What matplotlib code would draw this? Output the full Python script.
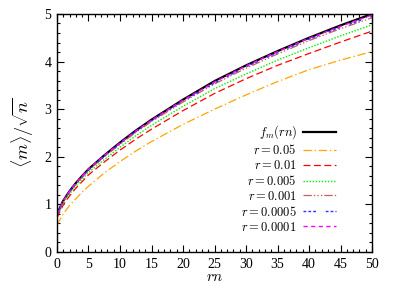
import matplotlib
matplotlib.use("Agg")
import matplotlib.pyplot as plt
from matplotlib.ticker import MultipleLocator

plt.rcParams['font.family'] = 'serif'
plt.rcParams['font.serif'] = ['Liberation Serif', 'DejaVu Serif']
plt.rcParams['mathtext.fontset'] = 'cm'
plt.rcParams['lines.scale_dashes'] = False

# values
rn = [0, 1, 2, 3, 4, 5, 7.5, 10, 12.5, 15, 20, 25, 30, 35, 40, 45, 50]

f_m = [0.80, 1.08, 1.28, 1.45, 1.60, 1.74, 2.03, 2.30, 2.55, 2.78, 3.20, 3.59, 3.92, 4.22, 4.50, 4.76, 5.00]
r_005 = [0.57, 0.80, 0.98, 1.12, 1.26, 1.38, 1.66, 1.90, 2.12, 2.32, 2.68, 3.00, 3.30, 3.58, 3.83, 4.03, 4.21]
r_001 = [0.72, 0.99, 1.18, 1.34, 1.48, 1.62, 1.89, 2.14, 2.37, 2.58, 2.97, 3.33, 3.64, 3.92, 4.17, 4.41, 4.64]
r_0005 = [0.75, 1.03, 1.22, 1.39, 1.53, 1.67, 1.94, 2.20, 2.44, 2.66, 3.06, 3.43, 3.74, 4.03, 4.29, 4.54, 4.77]
r_0001 = [0.78, 1.06, 1.26, 1.43, 1.57, 1.71, 2.00, 2.26, 2.51, 2.74, 3.15, 3.53, 3.86, 4.16, 4.44, 4.69, 4.92]
r_00005 = [0.79, 1.07, 1.27, 1.44, 1.59, 1.72, 2.01, 2.28, 2.53, 2.76, 3.17, 3.55, 3.89, 4.19, 4.47, 4.72, 4.95]
r_00001 = [0.80, 1.08, 1.28, 1.45, 1.60, 1.74, 2.03, 2.29, 2.54, 2.77, 3.19, 3.57, 3.91, 4.21, 4.49, 4.74, 4.98]

series = [
    (f_m, r'$f_m(rn)$', 'black', '-', 1.6),
    (r_005, r'$r = 0.05$', '#FFA500', (0, (6, 2, 1, 2)), 0.9),
    (r_001, r'$r = 0.01$', '#FF0000', (0, (5, 2.5)), 0.9),
    (r_0005, r'$r = 0.005$', '#00EE00', (0, (1, 1.2)), 1.0),
    (r_0001, r'$r = 0.001$', '#C06060', (0, (6, 1.5, 1, 1.5, 1, 1.5, 1, 1.5)), 0.9),
    (r_00005, r'$r = 0.0005$', '#3030FF', (0, (2, 1.5, 2, 1.5, 2, 7)), 1.0),
    (r_00001, r'$r = 0.0001$', '#FF00FF', (0, (3, 2.5)), 1.0),
]

fig = plt.figure(figsize=(3.95, 2.91), dpi=100)
ax = fig.add_axes([0.1443, 0.134, 0.7975, 0.818])

for ys, lab, col, ls, lw in series:
    ax.plot(rn, ys, color=col, linestyle=ls, linewidth=lw, label=lab)

ax.set_xlim(0, 50)
ax.set_ylim(0, 5)
ax.xaxis.set_major_locator(MultipleLocator(5))
ax.xaxis.set_minor_locator(MultipleLocator(1))
ax.yaxis.set_major_locator(MultipleLocator(1))
ax.yaxis.set_minor_locator(MultipleLocator(0.2))
ax.tick_params(which='both', direction='in', top=True, right=True, labelsize=10, pad=4)
ax.tick_params(which='major', length=4.8, width=0.8)
ax.tick_params(which='minor', length=2.4, width=0.8)
for s in ax.spines.values():
    s.set_linewidth(1.0)

ax.set_xlabel(r'$rn$', fontsize=11, labelpad=0)
ax.set_ylabel(r'$\langle m \rangle / \sqrt{n}$', fontsize=13, labelpad=6)

ax.legend(loc='lower right', frameon=False, markerfirst=False, fontsize=9,
          handlelength=2.6, labelspacing=0.15, handletextpad=0.5,
          bbox_to_anchor=(0.92, 0.03))

fig.savefig('out.png', dpi=100)
